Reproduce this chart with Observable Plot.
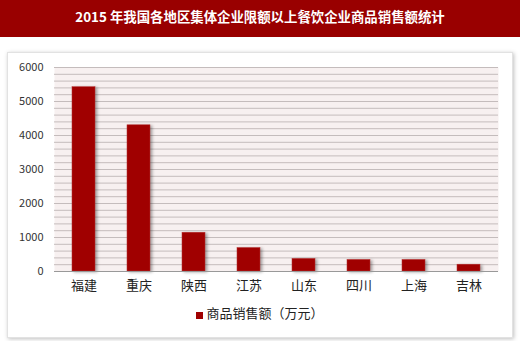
<!DOCTYPE html>
<html>
<head>
<meta charset="utf-8">
<script src="https://cdn.jsdelivr.net/npm/d3@7"></script>
<script src="https://cdn.jsdelivr.net/npm/@observablehq/plot@0.6"></script>
<style>
  html, body { margin: 0; padding: 0; background: #fff; }
  body { width: 520px; height: 341px; position: relative; overflow: hidden; font-family: "Noto Sans CJK SC", "Noto Sans", sans-serif; }
  #title { position: absolute; left: 0; top: 0; width: 520px; height: 37px; background: #990000; color: #fff; font-weight: bold; font-size: 13.4px; line-height: 33px; text-align: center; }
  #panel { position: absolute; left: 7px; top: 52px; width: 504px; height: 284px; border: 1px solid #e2e2e2; box-shadow: 1px 1px 4px rgba(0,0,0,0.25); background: #fff; }
  #chart { position: absolute; left: 0; top: 52px; }
  #legend { position: absolute; left: 0; top: 303px; width: 520px; text-align: center; font-size: 13px; color: #222; }
  #legend .sw { display: inline-block; width: 7px; height: 7px; background: #a00000; margin-right: 3px; vertical-align: -1px; }
</style>
</head>
<body>
<div id="title"></div>
<div id="panel"></div>
<div id="chart"></div>
<div id="legend"><span class="sw"></span><span id="legtext"></span></div>
<script>
const titleText = "2015 年我国各地区集体企业限额以上餐饮企业商品销售额统计";
const seriesName = "商品销售额（万元）";
const regions = ["福建", "重庆", "陕西", "江苏", "山东", "四川", "上海", "吉林"];
const sales = [5420, 4300, 1140, 690, 370, 340, 340, 200];
const yTicks = [0, 1000, 2000, 3000, 4000, 5000, 6000];
const gridLines = d3.range(0, 6001, 200);

document.getElementById("title").textContent = titleText;
document.getElementById("legtext").textContent = seriesName;

const data = regions.map((r, i) => ({region: r, value: sales[i]}));

const chart = Plot.plot({
  width: 520,
  height: 248,
  marginLeft: 54,
  marginRight: 22,
  marginTop: 15,
  marginBottom: 29,
  style: {fontFamily: '"Noto Sans CJK SC", "Noto Sans", sans-serif', background: "transparent"},
  x: {domain: regions, paddingInner: 0.58, paddingOuter: 0.29, label: null, tickSize: 0, tickPadding: 9},
  y: {domain: [0, 6000], ticks: yTicks, label: null, tickSize: 0, tickPadding: 11, tickFormat: d => String(d)},
  marks: [
    Plot.frame({fill: "#f7f0f0", stroke: null}),
    Plot.ruleY(gridLines, {stroke: "#c4bcbc", strokeWidth: 1}),
    Plot.barY(data, {x: "region", y: "value", fill: "#a00000", stroke: "#b83030", strokeWidth: 0.5}),
    Plot.ruleY([0], {stroke: "#999", strokeWidth: 1})
  ]
});
d3.select(chart).selectAll('g[aria-label="bar"] rect').style("filter", "drop-shadow(2px 1px 1.5px rgba(0,0,0,0.35))");
d3.select(chart).selectAll('g[aria-label="y-axis tick label"] text').style("font-size", "11px").style("fill", "#333");
d3.select(chart).selectAll('g[aria-label="x-axis tick label"] text').style("font-size", "13px").style("fill", "#222");
document.getElementById("chart").appendChild(chart);
</script>
</body>
</html>
